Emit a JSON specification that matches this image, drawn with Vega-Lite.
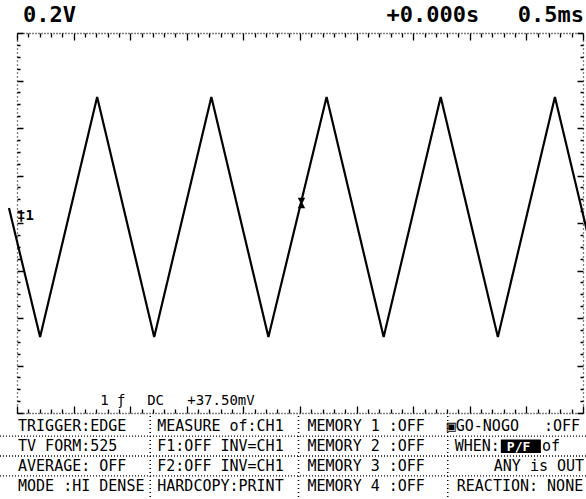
{
  "$schema": "https://vega.github.io/schema/vega-lite/v6.json",
  "width": 586,
  "height": 499,
  "autosize": {"type": "none"},
  "padding": 0,
  "background": "white",
  "config": {"view": {"stroke": null}, "font": "DejaVu Sans Mono"},
  "datasets": {
    "wave": [
      {"t": -0.071, "v": 0.063}, {"t": 0.204, "v": -0.48}, {"t": 0.708, "v": 0.531},
      {"t": 1.212, "v": -0.48}, {"t": 1.717, "v": 0.531}, {"t": 2.221, "v": -0.48},
      {"t": 2.735, "v": 0.531}, {"t": 3.239, "v": -0.48}, {"t": 3.743, "v": 0.531},
      {"t": 4.248, "v": -0.48}, {"t": 4.752, "v": 0.531}, {"t": 5.035, "v": -0.034}
    ],
    "trig": [{"t": 2.513, "v": 0.084}],
    "hsep": [
      {"t": -0.15, "t2": 5.04, "v": -0.897},
      {"t": -0.15, "t2": 5.04, "v": -0.981},
      {"t": -0.15, "t2": 5.04, "v": -1.065}
    ],
    "vsep": [
      {"t": 1.177, "v": -0.813, "v2": -1.165},
      {"t": 2.487, "v": -0.813, "v2": -1.165},
      {"t": 3.805, "v": -0.813, "v2": -1.165}
    ],
    "headL": [
      {"t": 0.053, "v": 0.876, "label": "0.2V"},
      {"t": 3.265, "v": 0.876, "label": "+0.000s"}
    ],
    "headR": [{"t": 5.009, "v": 0.876, "label": "0.5ms"}],
    "status": [
      {"t": 0.735, "v": -0.749, "label": "1 ƒ"},
      {"t": 1.15, "v": -0.749, "label": "DC"},
      {"t": 1.504, "v": -0.749, "label": "+37.50mV"}
    ],
    "panel": [
      {"t": 0.009, "v": -0.855, "label": "TRIGGER:EDGE"},
      {"t": 0.009, "v": -0.939, "label": "TV FORM:525"},
      {"t": 0.009, "v": -1.023, "label": "AVERAGE: OFF"},
      {"t": 0.009, "v": -1.107, "label": "MODE :HI DENSE"},
      {"t": 1.239, "v": -0.855, "label": "MEASURE of:CH1"},
      {"t": 1.239, "v": -0.939, "label": "F1:OFF INV=CH1"},
      {"t": 1.239, "v": -1.023, "label": "F2:OFF INV=CH1"},
      {"t": 1.239, "v": -1.107, "label": "HARDCOPY:PRINT"},
      {"t": 2.566, "v": -0.855, "label": "MEMORY 1 :OFF"},
      {"t": 2.566, "v": -0.939, "label": "MEMORY 2 :OFF"},
      {"t": 2.566, "v": -1.023, "label": "MEMORY 3 :OFF"},
      {"t": 2.566, "v": -1.107, "label": "MEMORY 4 :OFF"},
      {"t": 3.796, "v": -0.855, "label": "▣GO-NOGO"},
      {"t": 4.655, "v": -0.855, "label": ":OFF"},
      {"t": 3.867, "v": -0.939, "label": "WHEN:"},
      {"t": 4.637, "v": -0.939, "label": "of"},
      {"t": 4.212, "v": -1.023, "label": "ANY is OUT"},
      {"t": 3.885, "v": -1.107, "label": "REACTION: NONE"}
    ],
    "hl": [{"t": 4.274, "t2": 4.628, "v": -0.912, "v2": -0.968, "label": "P/F"}],
    "ch": [{"t": 0.0, "v": 0.03, "label": "‡1"}]
  },
  "encoding": {
    "x": {"field": "t", "type": "quantitative", "scale": {"domain": [0, 5], "range": [17, 583], "nice": false, "zero": false}, "axis": null},
    "y": {"field": "v", "type": "quantitative", "scale": {"domain": [-0.8, 0.8], "range": [413, 33], "nice": false, "zero": false}, "axis": null}
  },
  "layer": [
    {
      "data": {"name": "hsep"},
      "mark": {"type": "rule", "color": "black", "strokeDash": [1, 2], "strokeWidth": 1.3},
      "encoding": {"x2": {"field": "t2"}}
    },
    {
      "data": {"name": "vsep"},
      "mark": {"type": "rule", "color": "black", "strokeDash": [1, 3], "strokeWidth": 1.5},
      "encoding": {"y2": {"field": "v2"}}
    },
    {
      "data": {"name": "wave"},
      "mark": {"type": "line", "color": "black", "strokeWidth": 2.2},
      "encoding": {
        "x": {"field": "t", "type": "quantitative", "scale": {"domain": [0, 5], "range": [17, 583], "nice": false, "zero": false},
          "axis": {"orient": "top", "offset": -33, "labels": false, "title": null, "grid": false, "domainColor": "black", "domainDash": [1, 2], "domainWidth": 1.3, "tickCount": 50, "tickColor": "black", "tickWidth": 1.3,
            "tickSize": {"condition": {"test": "abs(datum.value*2-round(datum.value*2))<0.001", "value": -7}, "value": -4}}},
        "y": {"field": "v", "type": "quantitative", "scale": {"domain": [-0.8, 0.8], "range": [413, 33], "nice": false, "zero": false},
          "axis": {"orient": "left", "offset": -17, "labels": false, "title": null, "grid": false, "domainColor": "black", "domainDash": [1, 3], "domainWidth": 1.3, "tickCount": 32, "tickColor": "black", "tickWidth": 1.5,
            "tickSize": {"condition": {"test": "abs(datum.value*5-round(datum.value*5))<0.001", "value": -6}, "value": -3}}}
      }
    },
    {
      "data": {"name": "trig"},
      "mark": {"type": "point", "filled": true, "color": "black", "opacity": 1, "size": 110, "shape": "M-0.7,-1L0.7,-1L0.2,0L0.7,1L-0.7,1L-0.2,0Z"},
      "encoding": {
        "x": {"field": "t", "type": "quantitative", "scale": {"domain": [0, 5], "range": [17, 583], "nice": false, "zero": false},
          "axis": {"orient": "bottom", "offset": -86, "labels": false, "title": null, "grid": false, "domainColor": "black", "domainDash": [1, 2], "domainWidth": 1.3, "tickCount": 50, "tickColor": "black", "tickWidth": 1.3,
            "tickSize": {"condition": {"test": "abs(datum.value*2-round(datum.value*2))<0.001", "value": -7}, "value": -4}}},
        "y": {"field": "v", "type": "quantitative", "scale": {"domain": [-0.8, 0.8], "range": [413, 33], "nice": false, "zero": false},
          "axis": {"orient": "right", "offset": -3, "labels": false, "title": null, "grid": false, "domainColor": "black", "domainDash": [1, 3], "domainWidth": 1.3, "tickCount": 32, "tickColor": "black", "tickWidth": 1.5,
            "tickSize": {"condition": {"test": "abs(datum.value*5-round(datum.value*5))<0.001", "value": -6}, "value": -3}}}
      }
    },
    {
      "data": {"name": "headL"},
      "mark": {"type": "text", "align": "left", "baseline": "middle", "font": "DejaVu Sans Mono", "fontSize": 22, "fontWeight": "bold", "color": "black"},
      "encoding": {"text": {"field": "label"}}
    },
    {
      "data": {"name": "headR"},
      "mark": {"type": "text", "align": "right", "baseline": "middle", "font": "DejaVu Sans Mono", "fontSize": 22, "fontWeight": "bold", "color": "black"},
      "encoding": {"text": {"field": "label"}}
    },
    {
      "data": {"name": "status"},
      "mark": {"type": "text", "align": "left", "baseline": "middle", "font": "DejaVu Sans Mono", "fontSize": 14, "color": "black"},
      "encoding": {"text": {"field": "label"}}
    },
    {
      "data": {"name": "panel"},
      "mark": {"type": "text", "align": "left", "baseline": "middle", "font": "DejaVu Sans Mono", "fontSize": 15, "color": "black"},
      "encoding": {"text": {"field": "label"}}
    },
    {
      "data": {"name": "hl"},
      "mark": {"type": "rect", "color": "black"},
      "encoding": {"x2": {"field": "t2"}, "y2": {"field": "v2"}}
    },
    {
      "data": {"name": "hl"},
      "mark": {"type": "text", "align": "left", "baseline": "middle", "font": "DejaVu Sans Mono", "fontSize": 13, "fontWeight": "bold", "color": "white", "dx": 6, "dy": 7},
      "encoding": {"text": {"field": "label"}}
    },
    {
      "data": {"name": "ch"},
      "mark": {"type": "text", "align": "left", "baseline": "middle", "font": "DejaVu Sans Mono", "fontSize": 14, "fontWeight": "bold", "color": "black"},
      "encoding": {"text": {"field": "label"}}
    }
  ],
  "resolve": {"axis": {"x": "independent", "y": "independent"}}
}
